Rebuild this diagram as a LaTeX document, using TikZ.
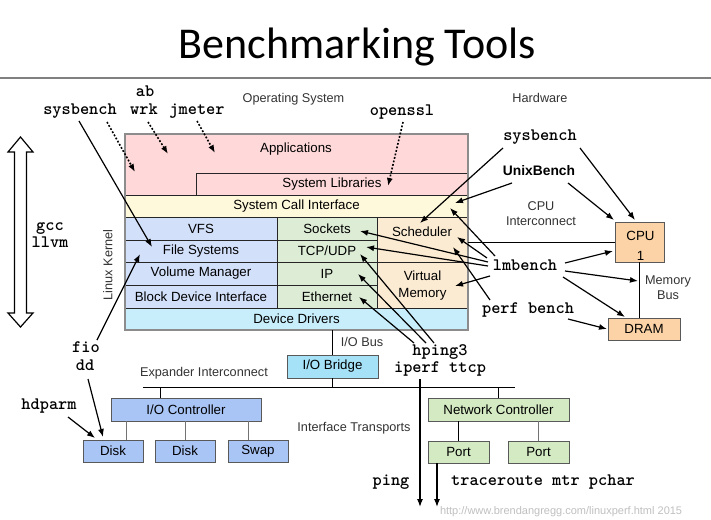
\documentclass[tikz,border=0pt]{standalone}
\usepackage{fontspec}
\setmainfont{Liberation Sans}
\newfontfamily\titlefont{Carlito}
\usetikzlibrary{arrows.meta,calc}
\definecolor{cpink}{HTML}{FFD9D9}
\definecolor{ccream}{HTML}{FFF9DC}
\definecolor{cblue}{HTML}{D3E0FA}
\definecolor{cgreen}{HTML}{DDECD5}
\definecolor{corange}{HTML}{FCEBD3}
\definecolor{ccyan}{HTML}{C8EEFB}
\definecolor{ccyanB}{HTML}{A6E2F7}
\definecolor{cblueB}{HTML}{A9C5F6}
\definecolor{cgreenB}{HTML}{D3EAC2}
\definecolor{corangeB}{HTML}{FBD3A6}
\tikzset{
  every node/.style={inner sep=0pt, outer sep=0pt},
  layer/.style={draw=black!85, line width=0.7pt, rectangle, font=\fontsize{13.3}{15}\selectfont},
  hwbox/.style={draw=black!65, line width=0.8pt, rectangle, font=\fontsize{13.3}{15}\selectfont},
  lbl/.style={font=\fontsize{12.7}{14.5}\selectfont, text=black!80, text height=9pt, text depth=2.5pt},
  btxt/.style={font=\fontsize{13.3}{15}\selectfont, text height=9.5pt, text depth=2.5pt},
  tool/.style={font=\ttfamily\bfseries\fontsize{17.5}{19}\selectfont, text height=9.5pt, text depth=2.5pt},
  arr/.style={-{Latex[length=8pt,width=6pt]}, line width=1.2pt},
  dotarr/.style={-{Latex[length=8pt,width=6pt]}, line width=1.6pt, dash pattern=on 1.8pt off 1.8pt},
  wire/.style={line width=0.9pt, draw=black},
  gwire/.style={line width=0.9pt, draw=black!55}
}
\begin{document}
\begin{tikzpicture}[x=1pt,y=-1pt]
\useasboundingbox (0,0) rectangle (711,519);
% title
\node[font=\titlefont\fontsize{44}{48}\selectfont] (title) at (357.5,47) {Benchmarking Tools};
\coordinate (hl) at (0,78);
\coordinate (hr) at (711,78);
\draw[line width=1.3pt, draw=black!50] (hl) -- (hr);

% header labels
\node[lbl] (oslbl) at (293.5,99) {Operating System};
\node[lbl] (hwlbl) at (540,99) {Hardware};

% OS stack
\node[layer, fill=cpink, minimum width=343pt, minimum height=61pt] (apps) at (296.5,164.5) {};
\node[btxt] (appsT) at (296,149) {Applications};
\node[layer, fill=cpink, minimum width=272pt, minimum height=22pt] (syslib) at (332,184) {System Libraries};
\node[layer, fill=ccream, minimum width=343pt, minimum height=22pt] (sci) at (296.5,206) {System Call Interface};
\node[layer, fill=cblue, minimum width=152pt, minimum height=23pt] (vfs) at (201,228.5) {VFS};
\node[layer, fill=cblue, minimum width=152pt, minimum height=22pt] (fs) at (201,251) {File Systems};
\node[layer, fill=cblue, minimum width=152pt, minimum height=23pt] (vmgr) at (201,273.5) {Volume Manager};
\node[layer, fill=cblue, minimum width=152pt, minimum height=23pt] (bdi) at (201,296.5) {Block Device Interface};
\node[layer, fill=cgreen, minimum width=100pt, minimum height=23pt] (sockets) at (327,228.5) {Sockets};
\node[layer, fill=cgreen, minimum width=100pt, minimum height=22pt] (tcp) at (327,251) {TCP/UDP};
\node[layer, fill=cgreen, minimum width=100pt, minimum height=23pt] (ip) at (327,273.5) {IP};
\node[layer, fill=cgreen, minimum width=100pt, minimum height=23pt] (eth) at (327,296.5) {Ethernet};
\node[layer, fill=corange, minimum width=91pt, minimum height=45pt] (sched) at (422.5,239.5) {};
\node[btxt] (schedT) at (422,233) {Scheduler};
\node[layer, fill=corange, minimum width=91pt, minimum height=46pt] (vmem) at (422.5,285) {};
\node[align=center, font=\fontsize{13.3}{17}\selectfont] (vmemT) at (422.5,286) {Virtual\\Memory};
\node[layer, fill=ccyan, minimum width=343pt, minimum height=22pt] (ddrv) at (296.5,319) {Device Drivers};
\draw[line width=1.4pt, draw=black!45] (apps.north west) rectangle (ddrv.south east);

\node[lbl, rotate=90] (lk) at (109,265) {Linux Kernel};

% big double arrow
\draw[line width=1.2pt, fill=white] (20.5,137) -- (33,152) -- (26.5,152) -- (26.5,313) -- (33,313) -- (20.5,327) -- (8,313) -- (14.5,313) -- (14.5,152) -- (8,152) -- cycle;
\node[tool] (gcc) at (50,227) {gcc};
\node[tool] (llvm) at (50,244) {llvm};

% hardware
\node[hwbox, fill=corangeB, minimum width=49pt, minimum height=40pt] (cpu) at (639.5,242) {};
\node[align=center, font=\fontsize{13.3}{20}\selectfont] (cpuT) at (640.5,245.5) {CPU\\1};
\node[hwbox, fill=corangeB, minimum width=72pt, minimum height=22pt] (dram) at (644,329) {DRAM};
\draw[wire] (cpu.west) -- (cpu.west -| ddrv.east);
\draw[wire] (cpu.south) -- (cpu.south |- dram.north);
\node[align=center, font=\fontsize{12.7}{15}\selectfont, text=black!80] (cpuic) at (541,214) {CPU\\Interconnect};
\node[align=center, font=\fontsize{12.7}{15}\selectfont, text=black!80] (membus) at (668,288) {Memory\\Bus};

% I/O
\node[hwbox, fill=ccyanB, minimum width=91pt, minimum height=23pt] (iobridge) at (332.5,366.5) {I/O Bridge};
\draw[wire] (iobridge.north) -- (iobridge.north |- ddrv.south);
\coordinate (busL) at (143,387);
\coordinate (busR) at (515,387);
\draw[wire] (busL) -- (busR);
\draw[wire] (iobridge.south) -- (iobridge.south |- busL);
\node[lbl] (iobus) at (362,343) {I/O Bus};
\node[lbl] (expic) at (204,373) {Expander Interconnect};
\node[lbl] (ift) at (354,428) {Interface Transports};

\node[hwbox, fill=cblueB, minimum width=150pt, minimum height=23pt] (ioctrl) at (186,409.5) {I/O Controller};
\coordinate (tapIO) at (160,387);
\draw[wire] (tapIO) -- (tapIO |- ioctrl.north);
\node[hwbox, fill=cblueB, minimum width=60pt, minimum height=22pt] (disk1) at (113,451) {Disk};
\node[hwbox, fill=cblueB, minimum width=60pt, minimum height=22pt] (disk2) at (185,451) {Disk};
\node[hwbox, fill=cblueB, minimum width=60pt, minimum height=22pt] (swap) at (258,451) {Swap};
\draw[gwire] ([xshift=13pt]disk1.north) -- ([xshift=13pt]disk1.north |- ioctrl.south);
\draw[gwire] (disk2.north) -- (disk2.north |- ioctrl.south);
\draw[gwire] ([xshift=-10pt]swap.north) -- ([xshift=-10pt]swap.north |- ioctrl.south);

\node[hwbox, fill=cgreenB, minimum width=141pt, minimum height=23pt] (nc) at (498.5,409.5) {Network Controller};
\draw[wire] (nc.north) -- (nc.north |- busL);
\node[hwbox, fill=cgreenB, minimum width=61pt, minimum height=22pt] (port1) at (458.5,452) {Port};
\node[hwbox, fill=cgreenB, minimum width=61pt, minimum height=22pt] (port2) at (538.5,452) {Port};
\draw[wire] (port1.north) -- (port1.north |- nc.south);
\draw[gwire] (port2.north) -- (port2.north |- nc.south);

% tool labels
\node[tool] (sysL) at (80,111) {sysbench};
\node[tool] (ab) at (145,93) {ab};
\node[tool] (wrk) at (144,111) {wrk};
\node[tool] (jmeter) at (197,111) {jmeter};
\node[tool] (openssl) at (402,112) {openssl};
\node[tool] (sysR) at (540,137) {sysbench};
\node[font=\bfseries\fontsize{13.8}{16}\selectfont, text height=9.5pt, text depth=2.5pt] (unixb) at (539,172) {UnixBench};
\node[tool] (lmb) at (525,267) {lmbench};
\node[tool] (perf) at (528,310) {perf bench};
\node[tool] (fio) at (86,349) {fio};
\node[tool] (dd) at (85,367) {dd};
\node[tool] (hdparm) at (49,406) {hdparm};
\node[tool] (hping) at (440,352) {hping3};
\node[tool] (iperf) at (440,369) {iperf ttcp};
\node[tool] (ping) at (391,482) {ping};
\node[tool] (trace) at (543,482) {traceroute mtr pchar};

% arrow end points
\coordinate (fsA) at (152,247);
\coordinate (appA1) at (135,172);
\coordinate (appA2) at (168,154);
\coordinate (appA3) at (215,153);
\coordinate (libA) at (388,186);
\coordinate (schA1) at (420,223);
\coordinate (cpuA1) at (635,220);
\coordinate (sciA1) at (455,203);
\coordinate (cpuA2) at (614,220);
\coordinate (sciA2) at (450,208);
\coordinate (schA2) at (457,237);
\coordinate (sockA) at (360,231);
\coordinate (tcpA1) at (366,247);
\coordinate (vmA) at (455,286);
\coordinate (cpuA3) at (613,251);
\coordinate (mbA) at (638,281);
\coordinate (dramA1) at (625,317);
\coordinate (schA3) at (453,247);
\coordinate (dramA2) at (607,329);
\coordinate (ethA) at (359,297);
\coordinate (ipA) at (358,274);
\coordinate (tcpA2) at (360,254);
\coordinate (fsA2) at (140,254);
\coordinate (diskA1) at (103,437);
\coordinate (diskA2) at (95,438);
\coordinate (pingEnd) at (420,507);
\coordinate (trEnd) at (437,507);

% arrows
\draw[arr] ($(sysL)+(-1,10)$) -- (fsA);
\draw[dotarr] ($(ab)+(-38,29)$) -- (appA1);
\draw[dotarr] ($(wrk)+(4,11)$) -- (appA2);
\draw[dotarr] ($(jmeter)+(0,10)$) -- (appA3);
\draw[dotarr] ($(openssl)+(1,10)$) -- (libA);
\draw[arr] ($(sysR)+(-37,11)$) -- (schA1);
\draw[arr] ($(sysR)+(40,11)$) -- (cpuA1);
\draw[arr] ($(unixb)+(-27,11)$) -- (sciA1);
\draw[arr] ($(unixb)+(29,11)$) -- (cpuA2);
\draw[arr] ($(lmb)+(-30,-11)$) -- (sciA2);
\draw[arr] ($(lmb)+(-38,-9)$) -- (schA2);
\draw[arr] ($(lmb)+(-37,-5)$) -- (sockA);
\draw[arr] ($(lmb)+(-37,-1)$) -- (tcpA1);
\draw[arr] ($(lmb)+(-35,9)$) -- (vmA);
\draw[arr] ($(lmb)+(40,-4)$) -- (cpuA3);
\draw[arr] ($(lmb)+(40,4)$) -- (mbA);
\draw[arr] ($(lmb)+(38,10)$) -- (dramA1);
\draw[arr] ($(perf)+(-38,-10)$) -- (schA3);
\draw[arr] ($(perf)+(40,9)$) -- (dramA2);
\draw[arr] ($(hping)+(-26,-9)$) -- (ethA);
\draw[arr] ($(hping)+(-14,-9)$) -- (ipA);
\draw[arr] ($(hping)+(-6,-9)$) -- (tcpA2);
\draw[arr] ($(fio)+(11,-9)$) -- (fsA2);
\draw[arr] ($(dd)+(3,12)$) -- (diskA1);
\draw[arr] ($(hdparm)+(19,11)$) -- (diskA2);
\draw[arr] ([yshift=-4pt]iperf.south -| pingEnd) -- (pingEnd);
\draw[arr] (port1.south -| trEnd) -- (trEnd);

% watermark
\node[font=\fontsize{11}{13}\selectfont, text=black!25, anchor=west] (wm) at (440,512) {http://www.brendangregg.com/linuxperf.html 2015};
\end{tikzpicture}
\end{document}
